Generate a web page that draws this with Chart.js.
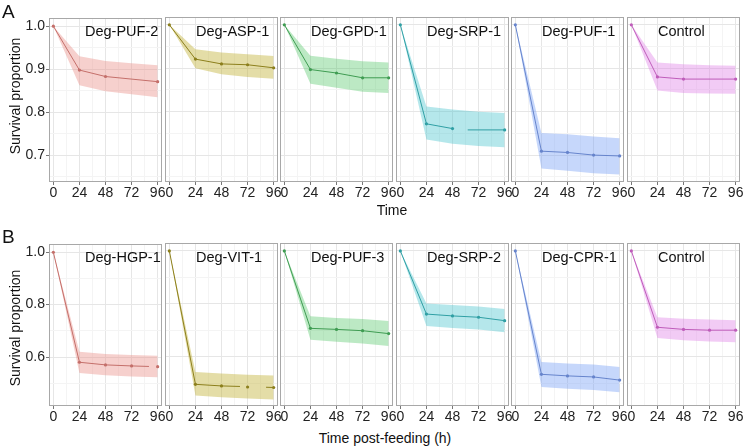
<!DOCTYPE html>
<html><head><meta charset="utf-8">
<script src="https://cdn.jsdelivr.net/npm/chart.js@4.4.1/dist/chart.umd.min.js"></script>
<style>
html,body{margin:0;padding:0;background:#fff}
body{width:750px;height:448px;position:relative;overflow:hidden;font-family:"Liberation Sans",Arial,sans-serif}
canvas{position:absolute}
.t{position:absolute;white-space:nowrap;color:#111;line-height:1}
</style></head><body>
<script>
// ---------- data ----------
const titlesA = ["Deg-PUF-2","Deg-ASP-1","Deg-GPD-1","Deg-SRP-1","Deg-PUF-1","Control"];
const titlesB = ["Deg-HGP-1","Deg-VIT-1","Deg-PUF-3","Deg-SRP-2","Deg-CPR-1","Control"];
const xTicks = [0,24,48,72,96];
const yTicksA = [0.7,0.8,0.9,1.0];
const yTicksB = [0.6,0.8,1.0];

// survival estimate lines (null = gap in the drawn line)
const survTimesA = [
  [0,24,48,96],
  [0,24,48,72,96],
  [0,24,48,72,96],
  [0,24,48,55,62,96],
  [0,24,48,72,96],
  [0,24,48,96]
];
const survValuesA = [
  [1.0,0.898,0.883,0.871],
  [1.0,0.921,0.910,0.908,0.901],
  [1.0,0.897,0.889,0.878,0.878],
  [1.0,0.772,0.761,null,0.758,0.758],
  [1.0,0.709,0.706,0.700,0.698],
  [1.0,0.880,0.875,0.875]
];
const survTimesB = [
  [0,24,48,72,88,92,96],
  [0,24,48,65,68,72,80,89,96],
  [0,24,48,72,96],
  [0,24,48,72,96],
  [0,24,48,72,96],
  [0,24,48,72,96]
];
const survValuesB = [
  [1.0,0.580,0.570,0.566,0.564,null,0.563],
  [1.0,0.495,0.489,0.487,null,0.485,null,0.484,0.483],
  [1.0,0.707,0.703,0.698,0.687],
  [1.0,0.761,0.754,0.749,0.736],
  [1.0,0.533,0.527,0.523,0.511],
  [1.0,0.711,0.703,0.700,0.700]
];

// confidence bands
const bandTimes = [0,24,48,72,96];
const bandUpperA = [
  [1.0,0.930,0.919,0.914,0.909],
  [1.0,0.944,0.936,0.932,0.928],
  [1.0,0.929,0.922,0.916,0.913],
  [1.0,0.812,0.805,0.800,0.797],
  [1.0,0.751,0.748,0.743,0.739],
  [1.0,0.913,0.909,0.907,0.906]
];
const bandLowerA = [
  [1.0,0.863,0.849,0.842,0.835],
  [1.0,0.900,0.886,0.880,0.876],
  [1.0,0.864,0.855,0.846,0.843],
  [1.0,0.736,0.726,0.721,0.718],
  [1.0,0.669,0.664,0.658,0.655],
  [1.0,0.849,0.843,0.842,0.841]
];
const bandUpperB = [
  [1.0,0.620,0.612,0.608,0.605],
  [1.0,0.542,0.536,0.531,0.528],
  [1.0,0.753,0.746,0.742,0.735],
  [1.0,0.801,0.795,0.790,0.780],
  [1.0,0.580,0.574,0.570,0.561],
  [1.0,0.749,0.743,0.740,0.738]
];
const bandLowerB = [
  [1.0,0.539,0.530,0.526,0.523],
  [1.0,0.453,0.446,0.441,0.438],
  [1.0,0.664,0.656,0.650,0.640],
  [1.0,0.716,0.708,0.703,0.692],
  [1.0,0.485,0.478,0.474,0.465],
  [1.0,0.670,0.662,0.657,0.654]
];

// ---------- style ----------
const fillColors = ["rgba(236,150,144,0.45)","rgba(196,180,60,0.45)","rgba(80,196,100,0.38)","rgba(70,196,204,0.40)","rgba(120,160,245,0.42)","rgba(225,130,230,0.42)"];
const lineColors = ["#c46f6a","#8c7f1c","#3f9c52","#2f9fa4","#6684cc","#bf5cba"];

const PW = 113, PLEFT = [49,165,280,396,511,627];
const rows = [
  {top:17, h:165, ymin:0.638, ymax:1.018, majors:yTicksA, minors:[0.65,0.75,0.85,0.95], titles:titlesA, times:survTimesA, vals:survValuesA, up:bandUpperA, lo:bandLowerA},
  {top:243, h:163, ymin:0.413, ymax:1.03, majors:yTicksB, minors:[0.5,0.7,0.9], titles:titlesB, times:survTimesB, vals:survValuesB, up:bandUpperB, lo:bandLowerB}
];

function addText(txt, css){
  const d=document.createElement('div'); d.className='t'; d.textContent=txt;
  Object.assign(d.style, css); document.body.appendChild(d); return d;
}

const borderPlugin = {
  id:'panelBorder',
  afterDraw(chart){
    const a=chart.chartArea, c=chart.ctx;
    c.save(); c.strokeStyle='#a8a8a8'; c.lineWidth=1;
    c.strokeRect(Math.round(a.left)+0.5, Math.round(a.top)+0.5, Math.round(a.right-a.left)-1, Math.round(a.bottom-a.top)-1);
    c.restore();
  }
};

const isMajorX = v => Math.abs(v % 24) < 1e-9;

rows.forEach((row, r) => {
  for (let i=0;i<6;i++){
    const padL = 10, yW = i===0 ? 34 : 0, padR = 10, padT = 8, xH = 24;
    const cw = Math.round(PW + padL + yW + padR), ch = row.h + padT + xH;
    const cv = document.createElement('canvas');
    cv.width = cw; cv.height = ch;
    cv.style.width = cw+'px'; cv.style.height = ch+'px';
    cv.style.left = (PLEFT[i] - padL - yW)+'px';
    cv.style.top = (row.top - padT)+'px';
    document.body.appendChild(cv);

    const survPts = row.times[i].map((t,k)=>({x:t, y:row.vals[i][k]}));
    const upPts = bandTimes.map((t,k)=>({x:t, y:row.up[i][k]}));
    const loPts = bandTimes.map((t,k)=>({x:t, y:row.lo[i][k]}));
    const yTickVals = row.majors.concat(row.minors).sort((a,b)=>a-b);
    const isMajorY = v => row.majors.some(m=>Math.abs(m-v)<1e-6);

    new Chart(cv, {
      type:'line',
      data:{ datasets:[
        { data:survPts, borderColor:lineColors[i], backgroundColor:lineColors[i], borderWidth:1,
          spanGaps:false, fill:false, tension:0,
          pointRadius: ctx => { const p=ctx.raw; return (p && p.y!==null && isMajorX(p.x)) ? 1.6 : 0; },
          pointBorderWidth:0, pointBackgroundColor:lineColors[i] },
        { data:upPts, borderWidth:0, borderColor:'rgba(0,0,0,0)', pointRadius:0, fill:'+1', backgroundColor:fillColors[i], tension:0 },
        { data:loPts, borderWidth:0, borderColor:'rgba(0,0,0,0)', pointRadius:0, fill:false, tension:0 }
      ]},
      options:{
        responsive:false, animation:false, devicePixelRatio:1,
        layout:{ padding:{ left:padL, right:padR, top:padT, bottom:0 } },
        plugins:{ legend:{display:false}, tooltip:{enabled:false} },
        scales:{
          x:{ type:'linear', min:-4, max:100,
              afterBuildTicks: s => { s.ticks = [0,12,24,36,48,60,72,84,96].map(v=>({value:v})); },
              afterFit: s => { s.height = xH; },
              ticks:{ autoSkip:false, maxRotation:0, padding:0, color:'#222',
                      font:{family:'"Liberation Sans", Arial, sans-serif', size:14},
                      callback: v => isMajorX(v) && xTicks.includes(v) ? String(v) : '' },
              grid:{ color: c => (c.tick && isMajorX(c.tick.value)) ? '#e6e6e6' : '#f4f4f4',
                     tickColor: c => (c.tick && isMajorX(c.tick.value)) ? '#777' : 'rgba(0,0,0,0)',
                     tickLength:3, lineWidth:1, drawTicks:true },
              border:{ display:false } },
          y:{ type:'linear', min:row.ymin, max:row.ymax,
              afterBuildTicks: s => { s.ticks = yTickVals.map(v=>({value:v})); },
              afterFit: s => { s.width = yW; },
              ticks:{ display: i===0, autoSkip:false, padding:1, color:'#222',
                      font:{family:'"Liberation Sans", Arial, sans-serif', size:14},
                      callback: v => isMajorY(v) ? v.toFixed(1) : '' },
              grid:{ color: c => (c.tick && isMajorY(c.tick.value)) ? '#e6e6e6' : '#f4f4f4',
                     tickColor: c => (i===0 && c.tick && isMajorY(c.tick.value)) ? '#777' : 'rgba(0,0,0,0)',
                     tickLength:3, lineWidth:1, drawTicks:true },
              border:{ display:false } }
        }
      },
      plugins:[borderPlugin]
    });

    addText(row.titles[i], { left:(PLEFT[i] + (i===0 ? 36 : 31))+'px', top:(row.top + 7)+'px', fontSize:'14.5px' });
  }
});

// axis titles and panel letters
addText('A', { left:'2px', top:'2px', fontSize:'19px' });
addText('B', { left:'2px', top:'227px', fontSize:'19px' });
addText('Time', { left:'392px', top:'203px', fontSize:'14px', transform:'translateX(-50%)' });
addText('Time post-feeding (h)', { left:'385px', top:'431px', fontSize:'14px', transform:'translateX(-50%)' });
addText('Survival proportion', { left:'15px', top:'96px', fontSize:'14px', transform:'translate(-50%,-50%) rotate(-90deg)' });
addText('Survival proportion', { left:'15px', top:'328px', fontSize:'14px', transform:'translate(-50%,-50%) rotate(-90deg)' });
</script>
</body></html>
